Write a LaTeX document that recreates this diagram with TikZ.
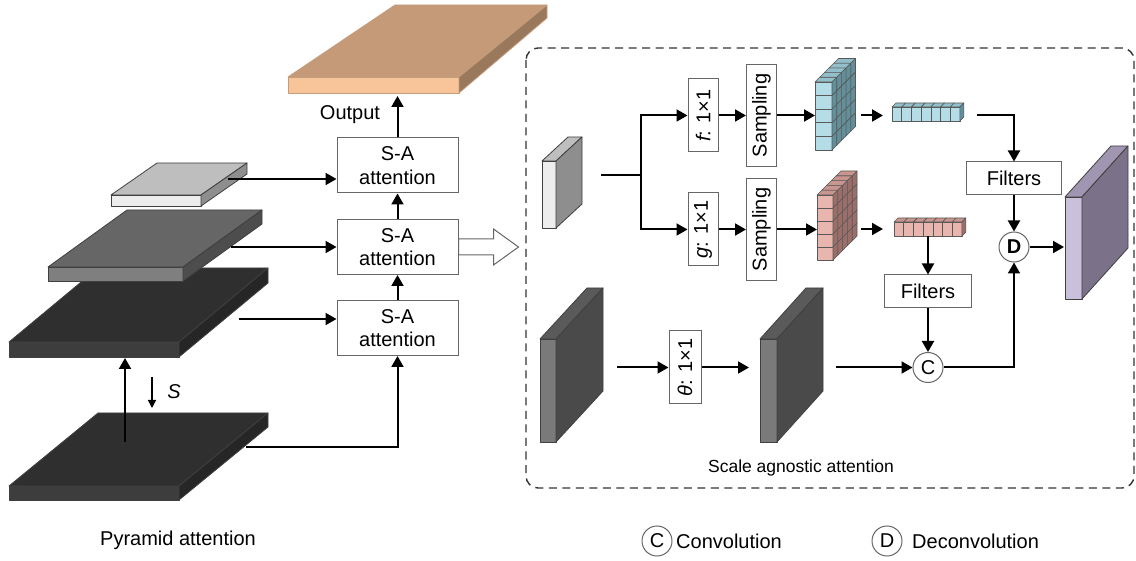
\documentclass[tikz,border=0pt]{standalone}
\usepackage{fontspec}
\setmainfont{Liberation Sans}
\usepackage{xcolor}
\usetikzlibrary{arrows.meta}

\definecolor{outfront}{HTML}{F8C49A}
\definecolor{outtop}{HTML}{C49A78}
\definecolor{outside}{HTML}{9A785C}
\definecolor{lgtfront}{HTML}{EDEDED}
\definecolor{lgttop}{HTML}{BEBEBE}
\definecolor{lgtside}{HTML}{8E8E8E}
\definecolor{midfront}{HTML}{7F7F7F}
\definecolor{midtop}{HTML}{666666}
\definecolor{midside}{HTML}{4D4D4D}
\definecolor{drkfront}{HTML}{3D3D3D}
\definecolor{drktop}{HTML}{2F2F2F}
\definecolor{drkside}{HTML}{262626}
\definecolor{blkfront}{HTML}{7A7A7A}
\definecolor{blktop}{HTML}{5A5A5A}
\definecolor{blkside}{HTML}{4A4A4A}
\definecolor{purfront}{HTML}{CBC0DC}
\definecolor{purtop}{HTML}{A196B2}
\definecolor{purside}{HTML}{7B7189}
\definecolor{blufront}{HTML}{B5DDE8}
\definecolor{blutop}{HTML}{93BFCB}
\definecolor{bluside}{HTML}{638F9A}
\definecolor{pnkfront}{HTML}{E9B5AF}
\definecolor{pnktop}{HTML}{C9958F}
\definecolor{pnkside}{HTML}{9C6E69}

% x y w h dx dy front top side
\newcommand{\cuboid}[9]{
    \filldraw[slab,fill=#7] (#1,#2) rectangle ++(#3,#4);
    \filldraw[slab,fill=#8] (#1,#2) -- ++(#5,#6) -- ++(#3,0) -- ({#1+#3},#2) -- cycle;
    \filldraw[slab,fill=#9] ({#1+#3},#2) -- ++(#5,#6) -- ++(0,#4) -- ({#1+#3},{#2+#4}) -- cycle;
}
% x y nx ny nz cw ch depth colour
\newcommand{\featmap}[9]{
    \foreach \i in {1,...,#3} \foreach \j in {1,...,#4}
        \filldraw[cell,fill=#9front] ({#1+(\i-1)*#6},{#2+(\j-1)*#7}) rectangle ++(#6,#7);
    \foreach \i in {1,...,#3} \foreach \k in {1,...,#5}
        \filldraw[cell,fill=#9top] ({#1+(\i-1)*#6+(\k-1)*#8},{#2-(\k-1)*#8})
            -- ++(#6,0) -- ++(#8,{-#8}) -- ++({-#6},0) -- cycle;
    \foreach \j in {1,...,#4} \foreach \k in {1,...,#5}
        \filldraw[cell,fill=#9side] ({#1+#3*#6+(\k-1)*#8},{#2+(\j-1)*#7-(\k-1)*#8})
            -- ++(#8,{-#8}) -- ++(0,#7) -- ++({-#8},#8) -- cycle;
}

\begin{document}
\begin{tikzpicture}[x=1pt,y=-1pt,font=\fontsize{20}{23.5}\selectfont]
    \tikzstyle{slab}=[draw=black!75,line width=0.8pt,line join=round]
    \tikzstyle{cell}=[draw=black!65,line width=0.6pt,line join=round]
    \tikzstyle{box}=[rectangle,draw=black!60,fill=white,line width=1pt,inner sep=0pt]
    \tikzstyle{sabox}=[box,minimum width=121pt,minimum height=55pt,align=center]
    \tikzstyle{vbox}=[box,minimum width=30pt]
    \tikzstyle{filt}=[box,minimum height=33pt]
    \tikzstyle{op}=[circle,draw=black!60,fill=white,line width=1pt,minimum size=30pt,inner sep=0pt]
    \tikzstyle{arr}=[-{Triangle[length=11pt,width=12pt]},line width=2pt]
    \useasboundingbox (0,0) rectangle (1136,561);

    % pyramid
    \cuboid{9}{486}{170}{14}{89}{-73}{drkfront}{drktop}{drkside}
    \cuboid{9}{342}{170}{15}{89}{-74}{drkfront}{drktop}{drkside}
    \cuboid{48}{267}{135}{14}{79}{-57}{midfront}{midtop}{midside}
    \cuboid{111}{195}{90}{11}{46}{-32}{lgtfront}{lgttop}{lgtside}
    \filldraw[slab,draw=outfront!80!black,fill=outfront] (288,77) rectangle (459,93);
    \filldraw[slab,draw=outfront!80!black,fill=outtop] (288,77) -- (395,5) -- (547,5) -- (459,77) -- cycle;
    \filldraw[slab,draw=outfront!80!black,fill=outside] (459,77) -- (547,5) -- (547,18) -- (459,93) -- cycle;

    \node[sabox] (sa1) at (397.5,165.5) {S-A\\attention};
    \node[sabox] (sa2) at (397.5,247) {S-A\\attention};
    \node[sabox] (sa3) at (397.5,328) {S-A\\attention};

    \coordinate (l1) at (228,179);
    \coordinate (l2) at (231,247);
    \coordinate (l3) at (239,319);
    \coordinate (l4) at (246,447);
    \coordinate (outp) at (397.5,96);
    \draw[arr] (l1) -- (sa1.west |- l1);
    \draw[arr] (l2) -- (sa2.west |- l2);
    \draw[arr] (l3) -- (sa3.west |- l3);
    \draw[arr] (l4) -| (sa3.south);
    \draw[arr] (sa3.north) -- (sa2.south);
    \draw[arr] (sa2.north) -- (sa1.south);
    \draw[arr] (sa1.north) -- (outp);
    \node (out) at (350,115) {Output};

    \coordinate (up0) at (125,442);
    \coordinate (up1) at (125,358);
    \draw[arr] (up0) -- (up1);
    \coordinate (dn0) at (152,377);
    \coordinate (dn1) at (152,408);
    \draw[-{Triangle[length=8pt,width=8pt]},line width=1.3pt] (dn0) -- (dn1);
    \node (s) at (174,392) {\itshape S};

    \draw[draw=black!60,fill=white,line width=1pt] (sa2.east) ++(0,-8) -- ++(35,0) -- ++(0,-10)
        -- ++(25,18) -- ++(-25,18) -- ++(0,-10) -- ++(-35,0) -- cycle;

    \node (pyr) at (178,540) {Pyramid attention};

    % scale agnostic attention
    \draw[dash pattern=on 8pt off 5.5pt,line width=1.4pt,black!80,rounded corners=12pt] (526,48) rectangle (1134,488);

    \cuboid{542}{161}{14}{67}{26}{-24}{lgtfront}{lgttop}{lgtside}
    \cuboid{540}{339}{16}{103}{47}{-51}{blkfront}{blktop}{blkside}
    \cuboid{760}{339}{17}{103}{46}{-51}{blkfront}{blktop}{blkside}
    \cuboid{1065}{197}{17}{102}{46}{-51}{purfront}{purtop}{purside}

    \featmap{815}{82}{1}{5}{5}{17}{13.6}{4.7}{blu}
    \featmap{817}{195}{1}{5}{5}{16}{13}{4.8}{pnk}
    \featmap{892}{107}{7}{1}{1}{9.7}{14}{4}{blu}
    \featmap{894}{222}{7}{1}{1}{9.7}{14}{4}{pnk}

    \node[vbox,minimum height=73pt] (fbox) at (703,115.5) {\rotatebox{90}{{\itshape f}: 1×1}};
    \node[vbox,minimum height=73pt] (gbox) at (703,229.5) {\rotatebox{90}{{\itshape g}: 1×1}};
    \node[vbox,minimum height=102pt] (samp1) at (761.5,115.5) {\rotatebox{90}{Sampling}};
    \node[vbox,minimum height=102pt] (samp2) at (761.5,229.5) {\rotatebox{90}{Sampling}};
    \node[vbox,minimum width=32pt,minimum height=73pt] (tbox) at (685,367.5) {\rotatebox{90}{{\itshape θ}: 1×1}};
    \node[filt,minimum width=95pt] (filt1) at (1014,178.5) {Filters};
    \node[filt,minimum width=87pt] (filt2) at (928,291.5) {Filters};
    \node[op] (dop) at (1014,247) {\textbf{D}};
    \node[op] (cop) at (928,367.5) {C};

    \coordinate (inp) at (601,175);
    \coordinate (br) at (641,175);
    \draw[line width=2pt] (inp) -- (br);
    \draw[arr] (br) |- (fbox);
    \draw[arr] (br) |- (gbox);
    \draw[arr] (fbox) -- (samp1);
    \draw[arr] (gbox) -- (samp2);
    \coordinate (fm1) at (815,115.5);
    \coordinate (fm2) at (817,229.5);
    \draw[arr] (samp1) -- (fm1);
    \draw[arr] (samp2) -- (fm2);
    \coordinate (v1a) at (861,115.5);
    \coordinate (v1b) at (883,115.5);
    \coordinate (v2a) at (861,229);
    \coordinate (v2b) at (883,229);
    \draw[arr] (v1a) -- (v1b);
    \draw[arr] (v2a) -- (v2b);
    \coordinate (vec1) at (977,115);
    \coordinate (vec2) at (928,236);
    \draw[arr] (vec1) -| (filt1);
    \draw[arr] (vec2) -- (filt2);
    \draw[arr] (filt1) -- (dop);
    \draw[arr] (filt2) -- (cop);
    \coordinate (res) at (1064,247);
    \draw[arr] (dop) -- (res);
    \draw[arr] (cop) -| (dop);

    \coordinate (k1) at (617,367.5);
    \coordinate (k2) at (749,367.5);
    \coordinate (k3) at (836,367.5);
    \draw[arr] (k1) -- (tbox);
    \draw[arr] (tbox) -- (k2);
    \draw[arr] (k3) -- (cop);

    \node[font=\fontsize{17.5}{21}\selectfont] (saa) at (801,468) {Scale agnostic attention};

    % legend
    \node[op] (legc) at (657,541) {C};
    \node[anchor=west,inner sep=0pt] (legct) at (676,541) {Convolution};
    \node[op] (legd) at (887,541) {D};
    \node[anchor=west,inner sep=0pt] (legdt) at (912,541) {Deconvolution};
\end{tikzpicture}
\end{document}
